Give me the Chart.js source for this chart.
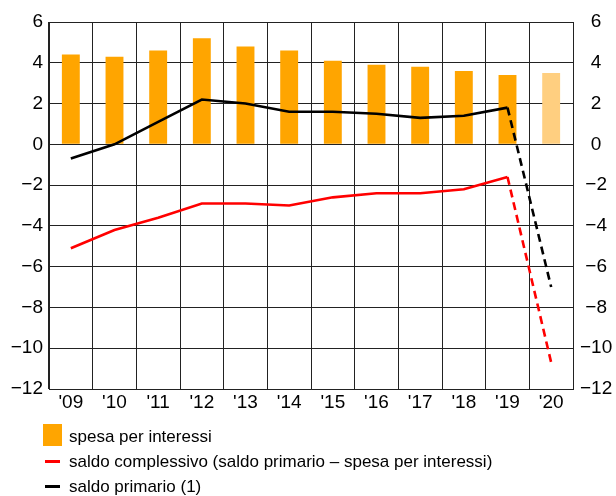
<!DOCTYPE html>
<html>
<head>
<meta charset="utf-8">
<script src="https://cdn.jsdelivr.net/npm/chart.js@4/dist/chart.umd.min.js"></script>
<style>
    html, body { margin: 0; padding: 0; background: #fff; }
    #wrap { position: relative; width: 616px; height: 496px; }
    #wrap canvas { position: absolute; left: 0; top: 0; }
    #legend { position: absolute; left: 0; top: 424px; font: 17px "Liberation Sans", Arial, sans-serif; color: #000; }
    .row { position: absolute; left: 0; height: 25px; line-height: 25px; white-space: nowrap; }
    .row .txt { position: absolute; left: 69px; top: 0; }
    .box { position: absolute; left: 43px; top: 0; width: 19px; height: 22px; }
    .dash { position: absolute; left: 45px; top: 11px; width: 15px; height: 3px; }
</style>
</head>
<body>
<div id="wrap">
    <canvas id="chart" width="616" height="496"></canvas>
    <div id="legend"></div>
</div>
<script>
/* ---------------------------
   DATA
--------------------------- */
const years = ["'09", "'10", "'11", "'12", "'13", "'14", "'15", "'16", "'17", "'18", "'19", "'20"];
const spesaInteressi = [4.4, 4.3, 4.6, 5.2, 4.8, 4.6, 4.1, 3.9, 3.8, 3.6, 3.4, 3.5];
const saldoComplessivo = [-5.1, -4.2, -3.6, -2.9, -2.9, -3.0, -2.6, -2.4, -2.4, -2.2, -1.6, -10.7];
const saldoPrimario = [-0.7, 0.0, 1.1, 2.2, 2.0, 1.6, 1.6, 1.5, 1.3, 1.4, 1.8, -7.0];
const yTicks = [6, 4, 2, 0, -2, -4, -6, -8, -10, -12];

const seriesLabels = [
    'spesa per interessi',
    'saldo complessivo (saldo primario \u2013 spesa per interessi)',
    'saldo primario (1)'
];

const FONT = '"Liberation Sans", Arial, sans-serif';
const ORANGE = '#ffa500';
const ORANGE_LIGHT = '#ffcf80';

// last year is a forecast: lighter bar, dashed line segment
const lastIdx = years.length - 1;
const barColors = years.map((y, i) => i === lastIdx ? ORANGE_LIGHT : ORANGE);
const dashLast = ctx => ctx.p1DataIndex === lastIdx ? [8, 5] : undefined;

const fmt = v => (v < 0 ? '\u2212' + Math.abs(v) : String(v));

const tickOpts = {
    color: '#000',
    font: { family: FONT, size: 19 },
    padding: 7,
    callback: v => yTicks.includes(v) ? fmt(v) : ''
};

const ctx = document.getElementById('chart').getContext('2d');

const chart = new Chart(ctx, {
    type: 'bar',
    data: {
        labels: years,
        datasets: [
            {
                type: 'line',
                label: seriesLabels[2],
                data: saldoPrimario,
                borderColor: '#000',
                borderWidth: 2.6,
                pointRadius: 0,
                tension: 0,
                segment: { borderDash: dashLast },
                order: 1
            },
            {
                type: 'line',
                label: seriesLabels[1],
                data: saldoComplessivo,
                borderColor: '#ff0000',
                borderWidth: 2.6,
                pointRadius: 0,
                tension: 0,
                segment: { borderDash: dashLast },
                order: 2
            },
            {
                label: seriesLabels[0],
                data: spesaInteressi,
                backgroundColor: barColors,
                borderWidth: 0,
                categoryPercentage: 1,
                barPercentage: 0.41,
                order: 3
            }
        ]
    },
    options: {
        responsive: false,
        animation: false,
        layout: { padding: { top: 22, bottom: 83, left: 0, right: 0 } },
        plugins: {
            legend: { display: false },
            tooltip: { enabled: false }
        },
        scales: {
            x: {
                offset: true,
                grid: { offset: true, color: '#222', lineWidth: 1, drawTicks: false },
                border: { color: '#222', width: 1 },
                ticks: { color: '#000', font: { family: FONT, size: 19 }, padding: 2, maxRotation: 0 },
                afterFit: s => { s.height = 24; }
            },
            y: {
                position: 'left',
                min: -12,
                max: 6,
                grid: { color: '#222', lineWidth: 1, drawTicks: false },
                border: { color: '#222', width: 1 },
                ticks: Object.assign({ stepSize: 2 }, tickOpts, { padding: 6 }),
                afterFit: s => { s.width = 49; }
            },
            y2: {
                position: 'right',
                min: -12,
                max: 6,
                grid: { display: false, drawTicks: false },
                border: { color: '#222', width: 1 },
                ticks: Object.assign({ stepSize: 2, crossAlign: 'center' }, tickOpts),
                afterFit: s => { s.width = 43; }
            }
        }
    }
});

/* ---------------------------
   LEGEND
--------------------------- */
const legend = document.getElementById('legend');
const markers = [
    '<span class="box" style="background:' + ORANGE + '"></span>',
    '<span class="dash" style="background:#ff0000"></span>',
    '<span class="dash" style="background:#000"></span>'
];
seriesLabels.forEach((label, i) => {
    const row = document.createElement('div');
    row.className = 'row';
    row.style.top = (i * 25) + 'px';
    row.innerHTML = markers[i] + '<span class="txt"></span>';
    row.querySelector('.txt').textContent = label;
    legend.appendChild(row);
});
</script>
</body>
</html>
